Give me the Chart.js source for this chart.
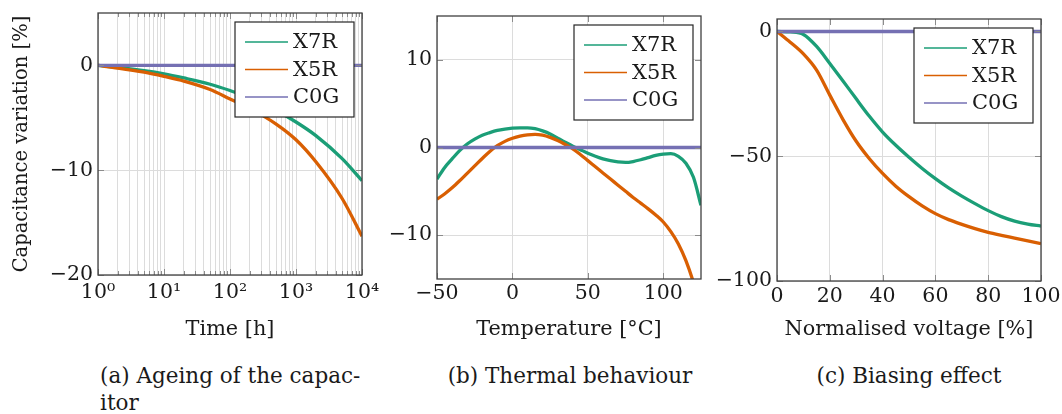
<!DOCTYPE html>
<html lang="en">
<head>
<meta charset="UTF-8">
<title>Capacitor behaviour</title>
<script src="https://cdn.jsdelivr.net/npm/chart.js"></script>
<style>
    body { margin: 0; background: #fff; }
    #fig { position: relative; width: 1062px; height: 414px; font-family: "DejaVu Serif", serif; color: #1a1a1a; }
    canvas { position: absolute; top: 0; }
    .cap { position: absolute; font-size: 21.5px; line-height: 27px; white-space: nowrap; }
</style>
</head>
<body>
<div id="fig">
    <canvas id="ageing" width="390" height="345" style="left:0"></canvas>
    <canvas id="thermal" width="340" height="345" style="left:372px"></canvas>
    <canvas id="biasing" width="350" height="345" style="left:712px"></canvas>
    <div class="cap" style="left:100px;top:362px">(a) Ageing of the capac-<br>itor</div>
    <div class="cap" style="left:370px;top:362px;width:400px;text-align:center">(b) Thermal behaviour</div>
    <div class="cap" style="left:759px;top:362px;width:300px;text-align:center">(c) Biasing effect</div>
</div>

<script>
    // (a) ageing
    var ageHours = [1, 2, 5, 10, 20, 50, 100, 200, 500, 1000, 2000, 5000, 10000];
    var ageX7R = [0, -0.2, -0.5, -0.8, -1.2, -1.8, -2.4, -3.1, -4.3, -5.4, -6.7, -8.9, -11.0];
    var ageX5R = [0, -0.25, -0.65, -1.05, -1.5, -2.3, -3.2, -4.1, -5.6, -7.1, -9.2, -12.7, -16.3];
    var ageC0G = [0, 0, 0, 0, 0, 0, 0, 0, 0, 0, 0, 0, 0];
    var ageYTicks = [-20, -10, 0];

    // (b) thermal behaviour
    var tempC = [-50, -45, -40, -35, -30, -25, -20, -15, -10, -5, 0, 5, 10, 15, 20, 25, 30, 35,
        40, 45, 50, 55, 60, 65, 70, 75, 80, 85, 90, 95, 100, 105, 110, 115, 120, 125];
    var tempX7R = [-3.6, -2.3, -1.3, -0.35, 0.4, 0.95, 1.4, 1.7, 1.95, 2.1, 2.2, 2.25, 2.25, 2.15, 1.9, 1.55, 1.05, 0.6,
        0.15, -0.25, -0.65, -1.0, -1.3, -1.5, -1.65, -1.7, -1.6, -1.4, -1.15, -0.9, -0.75, -0.7, -1.0, -1.8, -3.4, -6.6];
    var tempX5R = [-5.9, -5.3, -4.6, -3.8, -2.95, -2.1, -1.25, -0.45, 0.2, 0.7, 1.05, 1.3, 1.45, 1.5, 1.4, 1.15, 0.8, 0.35,
        -0.15, -0.8, -1.5, -2.2, -2.9, -3.6, -4.3, -5.0, -5.7, -6.35, -7.0, -7.7, -8.5, -9.6, -11.0, -12.9, -15.4, -18.5];
    var tempC0G = tempC.map(function () { return 0; });
    var tempXTicks = [-50, 0, 50, 100];
    var tempYTicks = [-10, 0, 10];

    // (c) biasing effect
    var voltPct = [0, 5, 10, 15, 20, 25, 30, 35, 40, 45, 50, 55, 60, 65, 70, 75, 80, 85, 90, 95, 100];
    var voltX7R = [0, -0.2, -1.2, -6.0, -12.8, -19.8, -27.0, -34.0, -40.3, -45.6, -50.4, -54.9, -59.0, -62.7, -66.0, -69.0, -71.8, -74.2, -76.0, -77.2, -78.0];
    var voltX5R = [0, -4.3, -9.0, -15.5, -25.5, -35.3, -44.0, -51.0, -56.9, -62.0, -66.2, -69.9, -73.0, -75.4, -77.3, -79.0, -80.5, -81.7, -82.8, -83.9, -85.0];
    var voltC0G = voltPct.map(function () { return 0; });
    var voltXTicks = [0, 20, 40, 60, 80, 100];
    var voltYTicks = [-100, -50, 0];

    var seriesNames = ['X7R', 'X5R', 'C0G'];
    var seriesColors = ['#1b9e77', '#d95f02', '#7570b3'];

    var FONT = "'DejaVu Serif', serif";
    var TXT = '#1a1a1a';
    var GRID = '#dcdcdc';
    var SUP = ['\u2070', '\u00b9', '\u00b2', '\u00b3', '\u2074'];

    function pontos(xs, ys) {
        return xs.map(function (x, i) { return { x: x, y: ys[i] }; });
    }

    function conjuntos(xs, listas) {
        return listas.map(function (ys, i) {
            return {
                label: seriesNames[i],
                data: pontos(xs, ys),
                borderColor: seriesColors[i],
                borderWidth: 3.3,
                pointRadius: 0,
                fill: false,
                cubicInterpolationMode: 'monotone',
                clip: 0,
                order: 3 - i
            };
        });
    }

    function menos(v) {
        return String(v).replace('-', '\u2212');
    }

    function ehDecada(v) {
        var e = Math.log10(v);
        return Math.abs(e - Math.round(e)) < 1e-9;
    }

    function fixos(valores) {
        return function (s) {
            s.ticks = valores.map(function (v) { return { value: v }; });
        };
    }

    // moldura, marcas internas e legenda
    var moldura = {
        id: 'moldura',
        afterDraw: function (chart) {
            var ctx = chart.ctx, a = chart.chartArea;
            var sx = chart.scales.x, sy = chart.scales.y;
            var log = sx.type === 'logarithmic';
            ctx.save();
            ctx.strokeStyle = '#8c8c8c';
            ctx.lineWidth = 1;
            ctx.beginPath();
            sx.ticks.forEach(function (t) {
                var px = Math.round(sx.getPixelForValue(t.value)) + 0.5;
                var len = (log && !ehDecada(t.value)) ? 4 : 6;
                ctx.moveTo(px, a.bottom); ctx.lineTo(px, a.bottom - len);
                ctx.moveTo(px, a.top); ctx.lineTo(px, a.top + len);
            });
            sy.ticks.forEach(function (t) {
                var py = Math.round(sy.getPixelForValue(t.value)) + 0.5;
                ctx.moveTo(a.left, py); ctx.lineTo(a.left + 6, py);
                ctx.moveTo(a.right, py); ctx.lineTo(a.right - 6, py);
            });
            ctx.stroke();

            ctx.strokeStyle = '#404040';
            ctx.lineWidth = 1.3;
            ctx.strokeRect(a.left, a.top, a.right - a.left, a.bottom - a.top);

            var w = 119, h = 95, bx = a.right - 8 - w, by = a.top + 9;
            ctx.fillStyle = '#fff';
            ctx.fillRect(bx, by, w, h);
            ctx.strokeStyle = '#262626';
            ctx.lineWidth = 1.2;
            ctx.strokeRect(bx, by, w, h);
            ctx.font = '21px ' + FONT;
            ctx.textBaseline = 'middle';
            chart.data.datasets.forEach(function (ds, i) {
                var y = by + 20 + i * 27.5;
                ctx.strokeStyle = ds.borderColor;
                ctx.lineWidth = 1.6;
                ctx.beginPath();
                ctx.moveTo(bx + 10, y);
                ctx.lineTo(bx + 53, y);
                ctx.stroke();
                ctx.fillStyle = TXT;
                ctx.fillText(ds.label, bx + 58, y + 1);
            });
            ctx.restore();
        }
    };

    function fonte(tam) {
        return { family: FONT, size: tam };
    }

    function eixoY(min, max, valores, largura, titulo) {
        return {
            min: min,
            max: max,
            afterBuildTicks: fixos(valores),
            ticks: { padding: 5, color: TXT, font: fonte(20.5), callback: menos },
            grid: { color: GRID, drawTicks: false },
            border: { display: false },
            title: { display: !!titulo, text: titulo || '', color: TXT, font: fonte(19.5), padding: { top: 10, bottom: 0 } },
            afterFit: function (s) { s.width = largura; s.paddingTop = 0; s.paddingBottom = 0; }
        };
    }

    function eixoX(tipo, min, max, valores, altura, pad, titulo) {
        var eixo = {
            type: tipo,
            min: min,
            max: max,
            ticks: { autoSkip: false, maxRotation: 0, minRotation: 0,
                padding: pad, color: TXT, font: fonte(20.5), callback: menos },
            grid: { color: GRID, drawTicks: false },
            border: { display: false },
            title: { display: true, text: titulo, color: TXT, font: fonte(20.8), padding: { top: 0, bottom: 3 } },
            afterFit: function (s) { s.height = altura; s.paddingLeft = 0; s.paddingRight = 0; }
        };
        if (tipo === 'logarithmic') {
            eixo.afterBuildTicks = function (s) {
                s.ticks = s.ticks.filter(function (t) {
                    var m = t.value / Math.pow(10, Math.floor(Math.log10(t.value) + 1e-9));
                    return Math.abs(m - Math.round(m)) < 1e-6;
                });
            };
            eixo.ticks.callback = function (v) {
                return ehDecada(v) ? '10' + SUP[Math.round(Math.log10(v))] : '';
            };
        } else {
            eixo.afterBuildTicks = fixos(valores);
        }
        return eixo;
    }

    function grafico(id, xs, listas, padTopo, padDir, eixoXcfg, eixoYcfg) {
        new Chart(document.getElementById(id), {
            type: 'line',
            data: { datasets: conjuntos(xs, listas) },
            options: {
                responsive: false,
                animation: false,
                devicePixelRatio: 1,
                layout: { padding: { top: padTopo, right: padDir, left: 0, bottom: 0 } },
                plugins: { legend: { display: false }, tooltip: { enabled: false } },
                scales: { x: eixoXcfg, y: eixoYcfg }
            },
            plugins: [moldura]
        });
    }

    grafico('ageing', ageHours, [ageX7R, ageX5R, ageC0G], 13, 28,
        eixoX('logarithmic', 1, 10000, null, 70, 5, 'Time [h]'),
        eixoY(-20, 5, ageYTicks, 98, 'Capacitance variation [%]'));

    grafico('thermal', tempC, [tempX7R, tempX5R, tempC0G], 16, 11,
        eixoX('linear', -50, 125, tempXTicks, 66, 2, 'Temperature [\u00b0C]'),
        eixoY(-15, 15, tempYTicks, 65, null));

    grafico('biasing', voltPct, [voltX7R, voltX5R, voltC0G], 19, 21,
        eixoX('linear', 0, 100, voltXTicks, 64, 3, 'Normalised voltage [%]'),
        eixoY(-100, 5, voltYTicks, 65, null));
</script>
</body>
</html>
